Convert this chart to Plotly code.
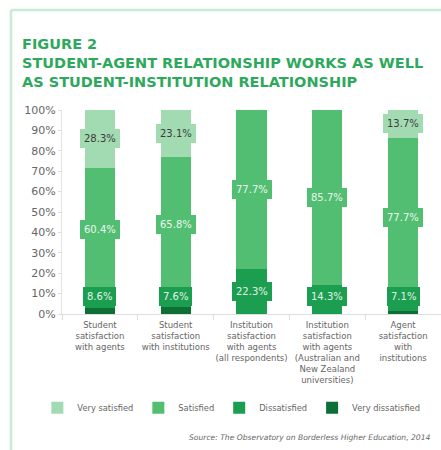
import plotly.graph_objects as go

categories = [
    "Student<br>satisfaction<br>with agents",
    "Student<br>satisfaction<br>with institutions",
    "Institution<br>satisfaction<br>with agents<br>(all respondents)",
    "Institution<br>satisfaction<br>with agents<br>(Australian and<br>New Zealand<br>universities)",
    "Agent<br>satisfaction<br>with<br>institutions",
]
very_dissatisfied = [2.7, 3.5, 0.0, 0.0, 1.5]
dissatisfied = [8.6, 7.6, 22.3, 14.3, 7.1]
satisfied = [60.4, 65.8, 77.7, 85.7, 77.7]
very_satisfied = [28.3, 23.1, 0.0, 0.0, 13.7]
y_ticks = [0, 10, 20, 30, 40, 50, 60, 70, 80, 90, 100]
y_tick_labels = [f"{v}%" for v in y_ticks]

C_VS = "#a2dbb1"
C_S = "#52be72"
C_D = "#1b9e50"
C_VD = "#0d6e36"
GREEN_TITLE = "#2ea85c"
FONT = "DejaVu Sans"

fig = go.Figure()
series = [
    ("Very dissatisfied", very_dissatisfied, C_VD),
    ("Dissatisfied", dissatisfied, C_D),
    ("Satisfied", satisfied, C_S),
    ("Very satisfied", very_satisfied, C_VS),
]
for name, vals, col in series:
    fig.add_trace(go.Bar(
        x=categories, y=vals, name=name, width=0.4,
        marker=dict(color=col, line=dict(width=0)),
        hoverinfo="skip",
    ))

# value labels (segment centres)
label_specs = [
    (1, dissatisfied, C_D, "#e2f4e7"),
    (2, satisfied, C_S, "#eaf7ee"),
    (3, very_satisfied, C_VS, "#3c3c3c"),
]
stack = [very_dissatisfied, dissatisfied, satisfied, very_satisfied]
for idx, vals, bg, fc in label_specs:
    for i, cat in enumerate(categories):
        v = vals[i]
        if v <= 0:
            continue
        base = sum(stack[k][i] for k in range(idx))
        yc = max(base + v / 2, 8.5)
        fig.add_annotation(
            x=cat, y=yc, xref="x", yref="y", text=f"{v}%", showarrow=False,
            font=dict(family=FONT, size=10, color=fc),
            bgcolor=bg, bordercolor=bg, borderwidth=1, borderpad=3,
        )

# Title
fig.add_annotation(
    xref="paper", yref="paper", x=-0.11, y=1.375, xanchor="left", yanchor="top",
    align="left", showarrow=False,
    text="FIGURE 2<br>STUDENT-AGENT RELATIONSHIP WORKS AS WELL<br>AS STUDENT-INSTITUTION RELATIONSHIP",
    font=dict(family=FONT, size=14.5, color=GREEN_TITLE, weight="bold"),
)
# Source
fig.add_annotation(
    xref="paper", yref="paper", x=0.975, y=-0.605, xanchor="right", yanchor="middle",
    showarrow=False,
    text="<i>Source: The Observatory on Borderless Higher Education, 2014</i>",
    font=dict(family=FONT, size=7.6, color="#666666"),
)
# Frame (top and left edges)
fig.add_shape(type="line", xref="paper", yref="paper",
              x0=-0.1346, x1=1.05, y0=1.49, y1=1.49,
              line=dict(color="#c6ebd6", width=2.5), layer="below")
fig.add_shape(type="line", xref="paper", yref="paper",
              x0=-0.1346, x1=-0.1346, y0=-0.7, y1=1.49,
              line=dict(color="#c6ebd6", width=2.5), layer="below")

fig.update_layout(
    width=441, height=450,
    margin=dict(l=62, r=0, t=110, b=136, autoexpand=False),
    barmode="stack",
    plot_bgcolor="white", paper_bgcolor="white",
    font=dict(family=FONT, color="#666666"),
    showlegend=True,
    legend=dict(
        orientation="h", x=-0.065, xanchor="left", y=-0.46, yanchor="middle",
        traceorder="reversed", font=dict(family=FONT, size=8.3, color="#666666"),
        itemwidth=30, bgcolor="rgba(0,0,0,0)",
    ),
    xaxis=dict(
        showline=True, linecolor="#dddddd", linewidth=1,
        ticks="outside", tickson="boundaries", ticklen=5, tickcolor="#dddddd",
        tickangle=0, ticklabelstandoff=3,
        tickfont=dict(family=FONT, size=8.5, color="#666666"),
        showgrid=False, range=[-0.5, 4.5], fixedrange=True, automargin=False,
    ),
    yaxis=dict(
        range=[0, 100], tickvals=y_ticks, ticktext=y_tick_labels,
        showline=True, linecolor="#e3e3e3", linewidth=1,
        ticks="outside", ticklen=3, tickcolor="#dddddd",
        tickfont=dict(family=FONT, size=11, color="#666666"),
        showgrid=False, zeroline=False, fixedrange=True, automargin=False,
    ),
)

fig.write_html("out.html")
